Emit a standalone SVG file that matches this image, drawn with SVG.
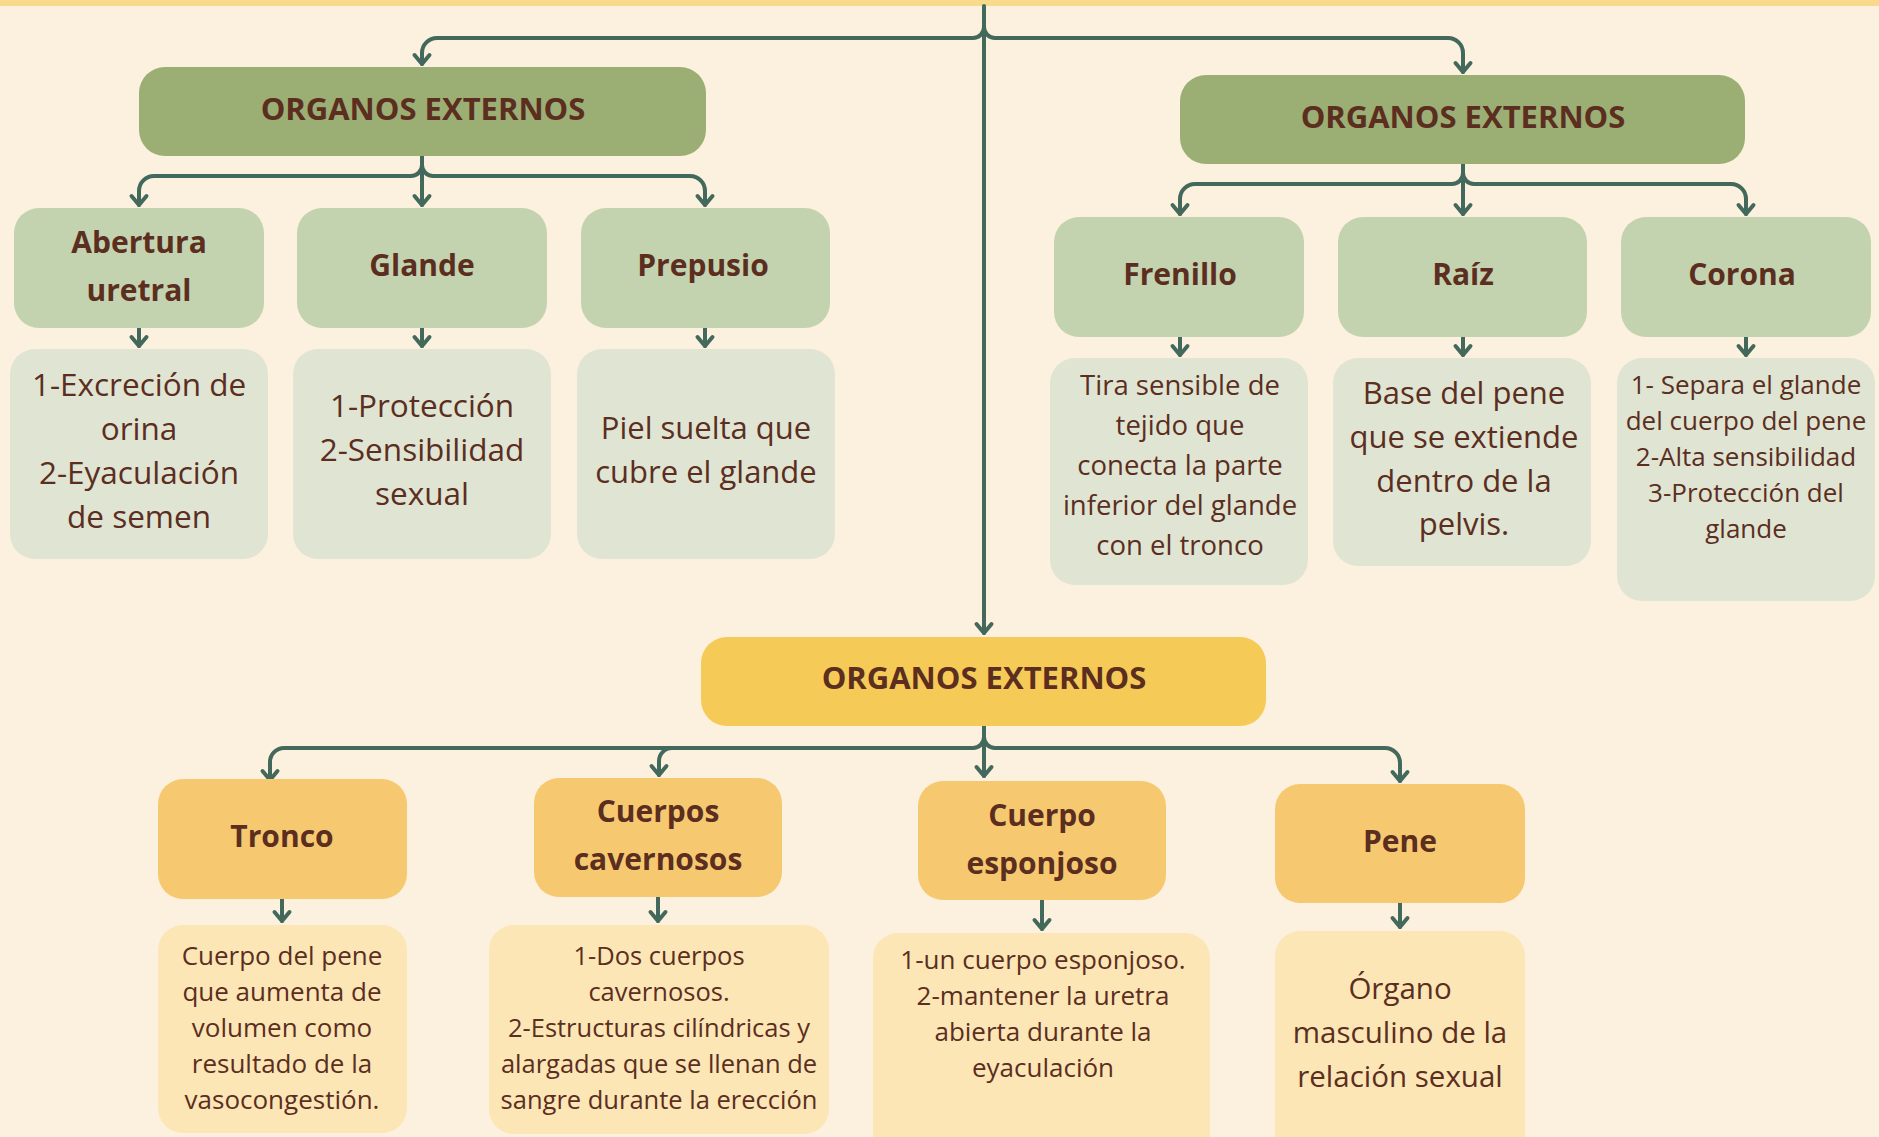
<svg xmlns="http://www.w3.org/2000/svg" width="1879" height="1137" viewBox="0 0 1879 1137">
<defs>
<marker id="ah" markerUnits="userSpaceOnUse" viewBox="-14 -12 20 24" markerWidth="20" markerHeight="24" refX="0" refY="0" orient="auto">
<path d="M-9,-7.5 L0,0 L-9,7.5" fill="none" stroke="#43695C" stroke-width="4" stroke-linecap="round" stroke-linejoin="round"/>
</marker>
<style>
.c{fill:none;stroke:#43695C;stroke-width:4;stroke-linecap:round}
.a{marker-end:url(#ah)}
.p1{fill:#9BAF75}
.c1{fill:#C4D3AF}
.d1{fill:#DFE5D2}
.p2{fill:#F6CA56}
.c2{fill:#F6C971}
.d2{fill:#FCE6B6}
text{font-family:"Open Sans","Noto Sans","DejaVu Sans",sans-serif;fill:#5B2E1F;text-anchor:middle}
.t{font-size:31px;font-weight:700}
.h{font-size:30px;font-weight:700}
</style>
</defs>
<rect width="1879" height="1137" fill="#FCF0DE"/>
<rect width="1879" height="6" fill="#F9D98B"/>

<g id="connectors" class="c">
<path class="a" d="M984,6 V633"/>
<path class="a" d="M984,27 A11,11 0 0 1 973,38 H437 A15,15 0 0 0 422,53 V64"/>
<path class="a" d="M984,27 A11,11 0 0 0 995,38 H1448 A15,15 0 0 1 1463,53 V72"/>
<path class="a" d="M422,156 V205"/>
<path class="a" d="M422,165 A11,11 0 0 1 411,176 H154 A15,15 0 0 0 139,191 V205"/>
<path class="a" d="M422,165 A11,11 0 0 0 433,176 H690 A15,15 0 0 1 705,191 V205"/>
<path class="a" d="M1463,164 V214"/>
<path class="a" d="M1463,173 A11,11 0 0 1 1452,184 H1195 A15,15 0 0 0 1180,199 V214"/>
<path class="a" d="M1463,173 A11,11 0 0 0 1474,184 H1731 A15,15 0 0 1 1746,199 V214"/>
<path class="a" d="M139,328 V346"/>
<path class="a" d="M422,328 V346"/>
<path class="a" d="M705,328 V346"/>
<path class="a" d="M1180,337 V355"/>
<path class="a" d="M1463,337 V355"/>
<path class="a" d="M1746,337 V355"/>
<path class="a" d="M984,725 V776"/>
<path class="a" d="M984,737 A11,11 0 0 1 973,748 H284 A14,14 0 0 0 270,762 V780"/>
<path class="a" d="M984,737 A11,11 0 0 0 995,748 H1385 A15,15 0 0 1 1400,763 V781"/>
<path class="a" d="M672,748 A13,13 0 0 0 659,761 V775"/>
<path class="a" d="M282,899 V921"/>
<path class="a" d="M658,897 V921"/>
<path class="a" d="M1042,900 V929"/>
<path class="a" d="M1400,903 V927"/>
</g>

<g id="top-left">
<rect class="p1" x="139" y="67" width="567" height="89" rx="26"/>
<text class="t" x="423" y="120">ORGANOS EXTERNOS</text>
</g>
<g id="top-right">
<rect class="p1" x="1180" y="75" width="565" height="89" rx="26"/>
<text class="t" x="1463" y="128">ORGANOS EXTERNOS</text>
</g>
<g id="bottom-center">
<rect class="p2" x="701" y="637" width="565" height="89" rx="26"/>
<text class="t" x="984" y="689">ORGANOS EXTERNOS</text>
</g>

<g id="abertura">
<rect class="c1" x="14" y="208" width="250" height="120" rx="25"/>
<text class="h" x="139" y="253">Abertura</text>
<text class="h" x="139" y="301">uretral</text>
</g>
<g id="glande">
<rect class="c1" x="297" y="208" width="250" height="120" rx="25"/>
<text class="h" x="422" y="276">Glande</text>
</g>
<g id="prepusio">
<rect class="c1" x="581" y="208" width="249" height="120" rx="25"/>
<text class="h" x="703" y="276">Prepusio</text>
</g>

<g id="abertura-desc" font-size="31.5">
<rect class="d1" x="10" y="349" width="258" height="210" rx="25"/>
<text x="139" y="396">1-Excreción de</text>
<text x="139" y="440">orina</text>
<text x="139" y="484">2-Eyaculación</text>
<text x="139" y="528">de semen</text>
</g>
<g id="glande-desc" font-size="31.5">
<rect class="d1" x="293" y="349" width="258" height="210" rx="25"/>
<text x="422" y="417">1-Protección</text>
<text x="422" y="461">2-Sensibilidad</text>
<text x="422" y="505">sexual</text>
</g>
<g id="prepusio-desc" font-size="31">
<rect class="d1" x="577" y="349" width="258" height="210" rx="25"/>
<text x="706" y="439">Piel suelta que</text>
<text x="706" y="483">cubre el glande</text>
</g>

<g id="frenillo">
<rect class="c1" x="1054" y="217" width="250" height="120" rx="25"/>
<text class="h" x="1180" y="285">Frenillo</text>
</g>
<g id="raiz">
<rect class="c1" x="1338" y="217" width="249" height="120" rx="25"/>
<text class="h" x="1463" y="285">Raíz</text>
</g>
<g id="corona">
<rect class="c1" x="1621" y="217" width="250" height="120" rx="25"/>
<text class="h" x="1742" y="285">Corona</text>
</g>

<g id="frenillo-desc" font-size="27.5">
<rect class="d1" x="1050" y="358" width="258" height="227" rx="25"/>
<text x="1180" y="395">Tira sensible de</text>
<text x="1180" y="435">tejido que</text>
<text x="1180" y="475">conecta la parte</text>
<text x="1180" y="515">inferior del glande</text>
<text x="1180" y="555">con el tronco</text>
</g>
<g id="raiz-desc" font-size="31">
<rect class="d1" x="1333" y="358" width="258" height="208" rx="25"/>
<text x="1464" y="404">Base del pene</text>
<text x="1464" y="448">que se extiende</text>
<text x="1464" y="492">dentro de la</text>
<text x="1464" y="535">pelvis.</text>
</g>
<g id="corona-desc" font-size="26">
<rect class="d1" x="1617" y="358" width="258" height="243" rx="25"/>
<text x="1746" y="394">1- Separa el glande</text>
<text x="1746" y="430">del cuerpo del pene</text>
<text x="1746" y="466">2-Alta sensibilidad</text>
<text x="1746" y="502">3-Protección del</text>
<text x="1746" y="538">glande</text>
</g>

<g id="tronco">
<rect class="c2" x="158" y="779" width="249" height="120" rx="25"/>
<text class="h" x="282" y="847">Tronco</text>
</g>
<g id="cuerpos-cavernosos">
<rect class="c2" x="534" y="778" width="248" height="119" rx="25"/>
<text class="h" x="658" y="822">Cuerpos</text>
<text class="h" x="658" y="870">cavernosos</text>
</g>
<g id="cuerpo-esponjoso">
<rect class="c2" x="918" y="781" width="248" height="119" rx="25"/>
<text class="h" x="1042" y="826">Cuerpo</text>
<text class="h" x="1042" y="874">esponjoso</text>
</g>
<g id="pene">
<rect class="c2" x="1275" y="784" width="250" height="119" rx="25"/>
<text class="h" x="1400" y="852">Pene</text>
</g>

<g id="tronco-desc" font-size="26">
<rect class="d2" x="158" y="925" width="249" height="208" rx="25"/>
<text x="282" y="965">Cuerpo del pene</text>
<text x="282" y="1001">que aumenta de</text>
<text x="282" y="1037">volumen como</text>
<text x="282" y="1073">resultado de la</text>
<text x="282" y="1109">vasocongestión.</text>
</g>
<g id="cuerpos-desc" font-size="25.5">
<rect class="d2" x="489" y="925" width="340" height="209" rx="25"/>
<text x="659" y="965">1-Dos cuerpos</text>
<text x="659" y="1001">cavernosos.</text>
<text x="659" y="1037">2-Estructuras cilíndricas y</text>
<text x="659" y="1073">alargadas que se llenan de</text>
<text x="659" y="1109">sangre durante la erección</text>
</g>
<g id="esponjoso-desc" font-size="26">
<rect class="d2" x="873" y="933" width="337" height="230" rx="25"/>
<text x="1043" y="969">1-un cuerpo esponjoso.</text>
<text x="1043" y="1005">2-mantener la uretra</text>
<text x="1043" y="1041">abierta durante la</text>
<text x="1043" y="1077">eyaculación</text>
</g>
<g id="pene-desc" font-size="29.5">
<rect class="d2" x="1275" y="931" width="250" height="234" rx="25"/>
<text x="1400" y="999">Órgano</text>
<text x="1400" y="1043">masculino de la</text>
<text x="1400" y="1087">relación sexual</text>
</g>
</svg>
